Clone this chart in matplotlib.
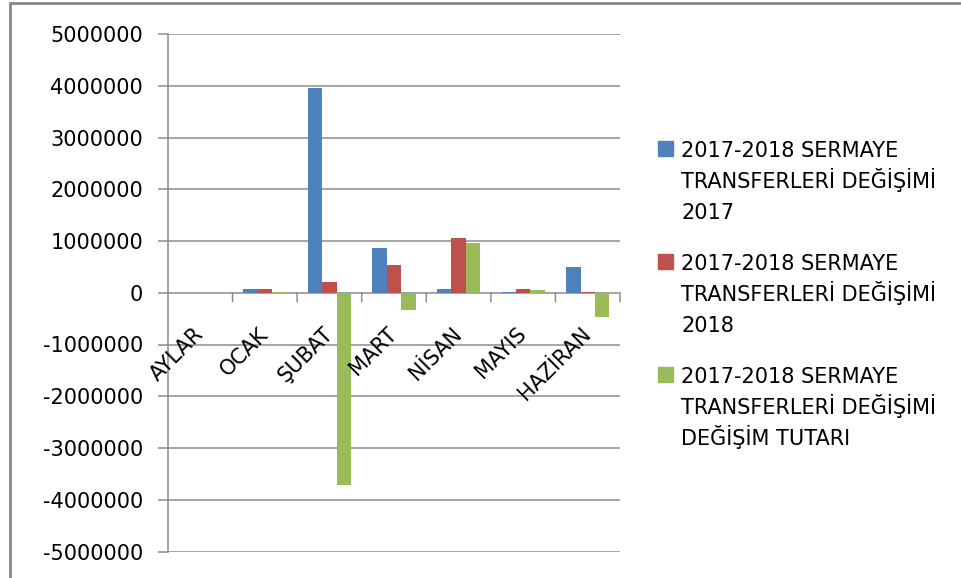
import matplotlib
matplotlib.use("Agg")
import matplotlib.pyplot as plt
from matplotlib.transforms import offset_copy
from matplotlib.patches import Rectangle
import numpy as np

plt.rcParams['font.family'] = ['DejaVu Sans']
plt.rcParams['axes.unicode_minus'] = False

categories = ['AYLAR', 'OCAK', 'ŞUBAT', 'MART', 'NİSAN', 'MAYIS', 'HAZİRAN']
s2017 = [0, 65000, 3950000, 870000, 66000, 20000, 490000]
s2018 = [0, 65000, 210000, 540000, 1060000, 70000, 20000]
s_diff = [0, 5000, -3720000, -330000, 965000, 45000, -470000]
series_labels = [
    ['2017-2018 SERMAYE', 'TRANSFERLERİ DEĞİŞİMİ', '2017'],
    ['2017-2018 SERMAYE', 'TRANSFERLERİ DEĞİŞİMİ', '2018'],
    ['2017-2018 SERMAYE', 'TRANSFERLERİ DEĞİŞİMİ', 'DEĞİŞİM TUTARI'],
]
colors = ['#4F81BD', '#C0504D', '#9BBB59']
yticks = [-5000000, -4000000, -3000000, -2000000, -1000000, 0,
          1000000, 2000000, 3000000, 4000000, 5000000]
ytick_labels = [str(v) for v in yticks]

W, H = 962, 578
fig = plt.figure(figsize=(W / 100, H / 100), dpi=100)
ax = fig.add_axes([168 / W, 1 - 551.5 / H, (620 - 168) / W, (551.5 - 34) / H])

grid_c = '#8C8C8C'
x = np.arange(len(categories))
bw = 1 / 4.5
for i, (vals, c) in enumerate(zip([s2017, s2018, s_diff], colors)):
    ax.bar(x + (i - 1) * bw, vals, width=bw, color=c, zorder=3, linewidth=0)

ax.set_xlim(-0.5, len(categories) - 0.5)
ax.set_ylim(-5000000, 5000000)
ax.set_yticks(yticks)
ax.set_yticklabels(ytick_labels, fontsize=15)
ax.yaxis.grid(True, color=grid_c, linewidth=1.1, zorder=0)
ax.tick_params(axis='y', length=7, width=1.1, color=grid_c, pad=11)
for s in ['top', 'right', 'bottom']:
    ax.spines[s].set_visible(False)
ax.spines['left'].set_color(grid_c)
ax.spines['left'].set_linewidth(1.1)
ax.set_xticks([])

# category boundary tick marks at the zero axis
for b in np.arange(-0.5, len(categories), 1.0)[1:]:
    ax.annotate('', xy=(b, 0), xytext=(0, -9), textcoords='offset pixels',
                xycoords='data',
                arrowprops=dict(arrowstyle='-', color=grid_c, lw=1.1,
                                shrinkA=0, shrinkB=0))

# category labels rotated
lab_tr = offset_copy(ax.transData, fig=fig, x=0, y=-38, units='dots')
for xi, lab in zip(x, categories):
    ax.text(xi, 0, lab, transform=lab_tr, rotation=45, ha='right',
            va='center', rotation_mode='anchor', fontsize=15, zorder=5)

# legend (manual)
for k, (lines, c) in enumerate(zip(series_labels, colors)):
    base = 157 + k * 113
    fig.patches.append(Rectangle((658.5 / W, 1 - (base - 1) / H), 15 / W, 15 / H,
                                 transform=fig.transFigure, color=c))
    for j, t in enumerate(lines):
        fig.text(681.5 / W, 1 - (base + j * 31) / H, t, fontsize=15,
                 ha='left', va='baseline')

# outer border
fig.patches.append(Rectangle((9.5 / W, -0.1), 2, 1.1 - 3.5 / H,
                             transform=fig.transFigure, fill=False,
                             edgecolor='#868686', linewidth=2))

fig.savefig('out.png', dpi=100)
